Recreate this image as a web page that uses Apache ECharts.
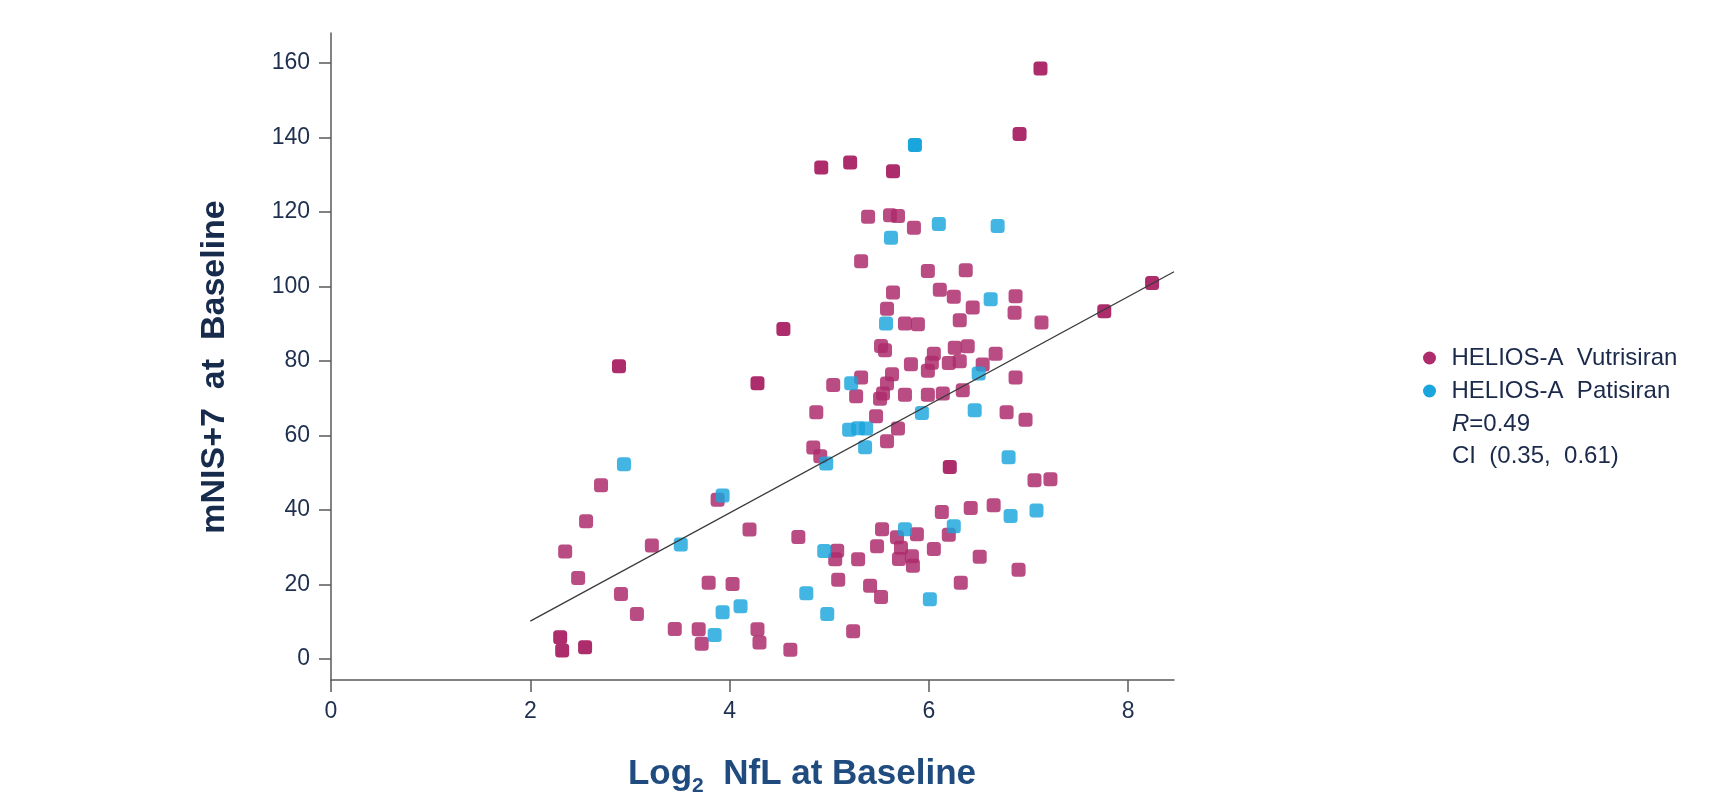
<!DOCTYPE html>
<html>
<head>
<meta charset="utf-8">
<script src="https://cdn.jsdelivr.net/npm/echarts@6/dist/echarts.min.js"></script>
<style>
  html, body {margin: 0; padding: 0; background: #ffffff;}
</style>
</head>
<body>
<div id="nflChart" style="width: 1727px;height: 792px;"></div>
<script>
// log2 NfL vs mNIS+7
const vutrisiran = [
  [2.71, 46.6], [2.56, 36.9], [2.35, 28.8], [2.48, 21.7], [2.91, 17.4], [3.07, 12.0],
  [3.22, 30.4], [3.88, 42.7], [4.20, 34.7], [3.79, 20.4], [4.03, 20.1], [3.45, 8.0],
  [3.69, 7.9], [3.72, 4.0], [4.28, 7.9], [4.30, 4.4], [4.61, 2.4], [4.69, 32.7],
  [5.08, 29.0], [5.06, 26.7], [5.29, 26.7], [5.09, 21.2], [5.24, 7.4], [5.41, 19.6],
  [5.52, 16.6], [6.32, 20.4], [5.48, 30.2], [5.53, 34.8], [5.68, 32.6], [5.88, 33.4],
  [5.72, 29.8], [5.70, 26.8], [5.83, 27.5], [5.84, 25.0], [6.05, 29.5], [6.13, 39.4],
  [6.20, 33.3], [6.42, 40.5], [6.65, 41.2], [6.51, 27.4], [4.84, 56.7], [4.91, 54.4],
  [4.87, 66.2], [5.04, 73.5], [5.32, 75.5], [5.27, 70.5], [5.47, 65.1], [5.58, 58.4],
  [5.69, 61.8], [5.51, 69.8], [5.54, 71.2], [5.58, 73.9], [5.63, 76.4], [5.76, 70.9],
  [5.99, 70.9], [6.14, 71.2], [6.34, 72.1], [5.82, 79.1], [5.99, 77.3], [6.03, 79.5],
  [6.05, 81.9], [6.20, 79.4], [6.31, 79.9], [6.26, 83.5], [6.39, 83.9], [6.54, 79.0],
  [6.67, 81.9], [5.52, 84.0], [5.56, 82.8], [5.76, 90.0], [5.89, 89.8], [5.58, 94.0],
  [6.31, 90.9], [6.44, 94.3], [6.86, 92.9], [7.13, 90.3], [6.87, 75.5], [6.78, 66.2],
  [6.97, 64.2], [7.06, 47.9], [7.22, 48.2], [6.90, 23.9], [5.39, 118.7], [5.61, 119.1],
  [5.69, 118.9], [5.85, 115.7], [5.32, 106.7], [5.99, 104.1], [6.37, 104.3], [5.64, 98.3],
  [6.11, 99.1], [6.25, 97.2], [6.87, 97.3]
];
// points that show up darker (overlapping) in the figure
const vutrisiranDark = [
  [2.89, 78.5], [4.54, 88.5], [4.28, 74.0], [2.30, 5.8], [2.32, 2.2], [2.55, 3.1],
  [6.21, 51.5], [7.12, 158.5], [6.91, 140.9], [4.92, 131.9], [5.21, 133.2], [5.64, 130.9],
  [7.76, 93.3], [8.24, 100.9]
];
const patisiran = [
  [2.94, 52.2], [3.51, 30.7], [3.93, 43.8], [4.11, 14.1], [3.93, 12.5], [3.85, 6.4],
  [4.77, 17.6], [4.98, 12.0], [4.95, 28.9], [6.01, 16.0], [5.76, 34.8], [6.25, 35.6],
  [4.97, 52.4], [5.22, 74.0], [5.20, 61.5], [5.29, 61.9], [5.37, 61.8], [5.36, 56.8],
  [5.93, 66.0], [6.46, 66.7], [6.50, 76.6], [5.57, 90.0], [6.80, 54.1], [7.08, 39.8],
  [6.82, 38.3], [6.10, 116.7], [6.69, 116.2], [5.62, 113.0], [6.62, 96.5]
];
const patisiranDark = [[5.86, 137.9]];
// regression line end points
const fitLine = [[2.0, 10.1], [8.46, 103.9]];

const xTicks = [0, 2, 4, 6, 8];
const yTicks = [0, 20, 40, 60, 80, 100, 120, 140, 160];
const seriesNames = ['HELIOS-A  Vutrisiran', 'HELIOS-A  Patisiran'];
const statsText = ['0.49', 'CI  (0.35,  0.61)'];

const FONT = '"Liberation Sans", Arial, sans-serif';
const MAGENTA = '#ad2d6c';
const CYAN = '#1aa5dc';

let axisCommon = {
  axisLine: {show: true, onZero: false, lineStyle: {color: '#5a5a5a', width: 1.5}},
  splitLine: {show: false},
}

let option = {
  animation: false,
  grid: {left: 331, top: 33, right: 553, bottom: 112, containLabel: false, outerBoundsMode: 'none'},
  xAxis: {
    type: 'value',
    min: 0,
    max: 8.46,
    ...axisCommon,
    axisTick: {show: true, length: 12, customValues: xTicks, lineStyle: {color: '#5a5a5a', width: 1.5}},
    axisLabel: {customValues: xTicks, margin: 20, color: '#1e2f4f', fontSize: 23, fontFamily: FONT},
  },
  yAxis: {
    type: 'value',
    min: -5.7,
    max: 168,
    ...axisCommon,
    axisTick: {show: true, length: 12, customValues: yTicks, lineStyle: {color: '#5a5a5a', width: 1.5}},
    axisLabel: {customValues: yTicks, margin: 21, color: '#1e2f4f', fontSize: 23, fontFamily: FONT},
  },
  legend: {
    data: seriesNames,
    orient: 'vertical',
    left: 1423,
    top: 346,
    padding: 0,
    icon: 'circle',
    itemWidth: 34,
    itemHeight: 13,
    itemGap: 9,
    itemStyle: {opacity: 1},
    textStyle: {color: '#1b2a4a', fontSize: 24, fontFamily: FONT},
  },
  graphic: [
    {
      type: 'text', x: 215, y: 367, rotation: Math.PI / 2,
      style: {
        text: 'mNIS+7  at  Baseline', fill: '#172b4d',
        font: 'bold 34px ' + FONT,
        align: 'center', verticalAlign: 'middle', textAlign: 'center', textVerticalAlign: 'middle'
      }
    },
    {
      type: 'text', x: 802, y: 774,
      style: {
        text: '{a|Log}{s|2}{a|  NfL at Baseline}',
        align: 'center', verticalAlign: 'middle', textAlign: 'center', textVerticalAlign: 'middle',
        rich: {
          a: {font: 'bold 35px ' + FONT, fill: '#1f4b7f', lineHeight: 46},
          s: {font: 'bold 21px ' + FONT, fill: '#1f4b7f', lineHeight: 46, verticalAlign: 'bottom'}
        }
      }
    },
    {
      type: 'text', x: 1452, y: 424,
      style: {
        text: '{i|R}{n|=' + statsText[0] + '}',
        verticalAlign: 'middle', textVerticalAlign: 'middle',
        rich: {
          i: {font: 'italic 24px ' + FONT, fill: '#1b2a4a'},
          n: {font: '24px ' + FONT, fill: '#1b2a4a'}
        }
      }
    },
    {
      type: 'text', x: 1452, y: 456,
      style: {
        text: statsText[1], fill: '#1b2a4a', font: '24px ' + FONT,
        verticalAlign: 'middle', textVerticalAlign: 'middle'
      }
    }
  ],
  series: [
    {
      name: seriesNames[0], type: 'scatter', data: vutrisiran,
      symbol: 'roundRect', symbolSize: 14,
      itemStyle: {color: MAGENTA, opacity: 0.85}, z: 2
    },
    {
      name: seriesNames[0], type: 'scatter', data: vutrisiranDark,
      symbol: 'roundRect', symbolSize: 14,
      itemStyle: {color: MAGENTA, opacity: 1}, z: 2
    },
    {
      name: seriesNames[1], type: 'scatter', data: patisiran,
      symbol: 'roundRect', symbolSize: 14,
      itemStyle: {color: CYAN, opacity: 0.82}, z: 3
    },
    {
      name: seriesNames[1], type: 'scatter', data: patisiranDark,
      symbol: 'roundRect', symbolSize: 14,
      itemStyle: {color: CYAN, opacity: 1}, z: 3
    },
    {
      name: 'fit', type: 'line', data: fitLine,
      symbol: 'none', silent: true,
      lineStyle: {color: '#3a3a3a', width: 1.3}, z: 5
    }
  ]
}

let nflChart = echarts.init(document.getElementById('nflChart'), null, {width: 1727, height: 792});
nflChart.setOption(option);
</script>
</body>
</html>
